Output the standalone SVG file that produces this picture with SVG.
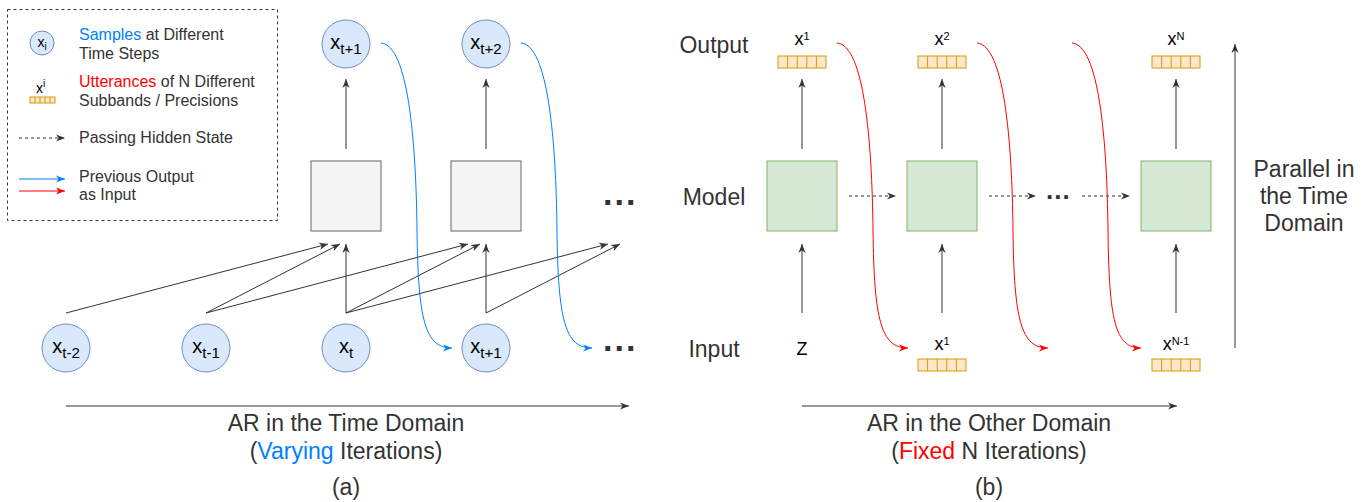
<svg xmlns="http://www.w3.org/2000/svg" width="1368" height="502" viewBox="0 0 1368 502">
  <style>
    text { font-family: "Liberation Sans", Arial, sans-serif; fill: #333333; }
    .lbl { font-size: 23px; }
    .leg { font-size: 16px; }
    .var { font-size: 20px; fill: #000000; }
    .sym { font-size: 18px; fill: #000000; }
    .dots { font-weight: bold; fill: #333333; }
    .sample { fill: #dae8fc; stroke: #6c8ebf; stroke-width: 1; }
    .gray { fill: #f5f5f5; stroke: #666666; stroke-width: 1; }
    .green { fill: #d5e8d4; stroke: #82b366; stroke-width: 1; }
    .bar { fill: #ffe6cc; stroke: #d79b00; stroke-width: 1; }
    .edge { fill: none; stroke: #333333; stroke-width: 1; marker-end: url(#ah); }
    .dash { fill: none; stroke: #333333; stroke-width: 1; stroke-dasharray: 3 3; marker-end: url(#ah); }
    .blue { fill: none; stroke: #007fff; stroke-width: 1; marker-end: url(#ahb); }
    .red { fill: none; stroke: #ff0000; stroke-width: 1; marker-end: url(#ahr); }
    .b { fill: #007fff; }
    .r { fill: #ff0000; }
  </style>
  <defs>
    <marker id="ah" viewBox="0 0 10 10" refX="10" refY="5" markerWidth="9" markerHeight="9" markerUnits="userSpaceOnUse" orient="auto">
      <path d="M0,1 L10,5 L0,9 L3,5 z" fill="#333333"/>
    </marker>
    <marker id="ahb" viewBox="0 0 10 10" refX="10" refY="5" markerWidth="9" markerHeight="9" markerUnits="userSpaceOnUse" orient="auto">
      <path d="M0,1 L10,5 L0,9 L3,5 z" fill="#007fff"/>
    </marker>
    <marker id="ahr" viewBox="0 0 10 10" refX="10" refY="5" markerWidth="9" markerHeight="9" markerUnits="userSpaceOnUse" orient="auto">
      <path d="M0,1 L10,5 L0,9 L3,5 z" fill="#ff0000"/>
    </marker>
    <!-- five-cell feature bar -->
    <g id="bar48">
      <rect class="bar" x="0" y="0" width="48" height="12"/>
      <path d="M9.6,0 V12 M19.2,0 V12 M28.8,0 V12 M38.4,0 V12" stroke="#d79b00" stroke-width="1" fill="none"/>
    </g>
  </defs>

  <rect width="1368" height="502" fill="#ffffff"/>

  <!-- legend -->
  <g id="legend">
    <rect x="7.5" y="9.5" width="270" height="211" fill="none" stroke="#333333" stroke-dasharray="3 3"/>
    <circle class="sample" cx="42" cy="43" r="12"/>
    <text x="42" y="47" text-anchor="middle" style="font-size:14px;fill:#000">x<tspan style="font-size:10px" dy="3">i</tspan></text>
    <text class="leg" x="79" y="40"><tspan class="b">Samples</tspan> at Different</text>
    <text class="leg" x="79" y="59">Time Steps</text>
    <text x="36" y="93" style="font-size:14px;fill:#000">x<tspan style="font-size:10px" dy="-6">i</tspan></text>
    <rect class="bar" x="30" y="97" width="25" height="6"/>
    <path d="M35,97 V103 M40,97 V103 M45,97 V103 M50,97 V103" stroke="#d79b00" fill="none"/>
    <text class="leg" x="79" y="87"><tspan class="r">Utterances</tspan> of N Different</text>
    <text class="leg" x="79" y="106">Subbands / Precisions</text>
    <path class="dash" d="M19,138 H65"/>
    <text class="leg" x="79" y="143">Passing Hidden State</text>
    <path class="blue" d="M19,179 H65"/>
    <path class="red" d="M19,191 H65"/>
    <text class="leg" x="79" y="182">Previous Output</text>
    <text class="leg" x="79" y="200">as Input</text>
  </g>

  <!-- (a) time-domain autoregression -->
  <g id="xt-2"><circle class="sample" cx="66" cy="348" r="24"/><text class="var" x="66" y="353" text-anchor="middle">x<tspan style="font-size:15px" dy="5">t-2</tspan></text></g>
  <g id="xt-1"><circle class="sample" cx="206" cy="348" r="24"/><text class="var" x="206" y="353" text-anchor="middle">x<tspan style="font-size:15px" dy="5">t-1</tspan></text></g>
  <g id="xt"><circle class="sample" cx="346" cy="348" r="24"/><text class="var" x="346" y="353" text-anchor="middle">x<tspan style="font-size:15px" dy="5">t</tspan></text></g>
  <g id="xt+1-in"><circle class="sample" cx="486" cy="348" r="24"/><text class="var" x="486" y="353" text-anchor="middle">x<tspan style="font-size:15px" dy="5">t+1</tspan></text></g>
  <g id="model-a1"><rect class="gray" x="311" y="161" width="70" height="70"/></g>
  <g id="model-a2"><rect class="gray" x="451" y="161" width="70" height="70"/></g>
  <g id="xt+1-out"><circle class="sample" cx="346" cy="44" r="24"/><text class="var" x="346" y="49" text-anchor="middle">x<tspan style="font-size:15px" dy="5">t+1</tspan></text></g>
  <g id="xt+2-out"><circle class="sample" cx="486" cy="44" r="24"/><text class="var" x="486" y="49" text-anchor="middle">x<tspan style="font-size:15px" dy="5">t+2</tspan></text></g>
  <g id="more-a">
    <text class="dots" x="603" y="205" style="font-size:34px;letter-spacing:2px">...</text>
    <text class="dots" x="603" y="351" style="font-size:34px;letter-spacing:2px">...</text>
  </g>
  <g id="caption-a">
    <text class="lbl" x="346" y="431" text-anchor="middle">AR in the Time Domain</text>
    <text class="lbl" x="346" y="459" text-anchor="middle">(<tspan class="b">Varying</tspan> Iterations)</text>
    <text class="lbl" x="346" y="495" text-anchor="middle">(a)</text>
  </g>

  <!-- (b) autoregression over the other domain -->
  <g id="row-labels">
    <text class="lbl" x="714" y="53" text-anchor="middle">Output</text>
    <text class="lbl" x="714" y="205" text-anchor="middle">Model</text>
    <text class="lbl" x="714" y="357" text-anchor="middle">Input</text>
  </g>
  <g id="z-in"><text class="sym" x="802" y="355" text-anchor="middle">Z</text></g>
  <g id="x1-in"><text class="sym" x="942" y="350" text-anchor="middle">x<tspan style="font-size:11px" dy="-5">1</tspan></text><use href="#bar48" x="918" y="359"/></g>
  <g id="xN-1-in"><text class="sym" x="1176" y="350" text-anchor="middle">x<tspan style="font-size:11px" dy="-5">N-1</tspan></text><use href="#bar48" x="1152" y="359"/></g>
  <g id="model-b1"><rect class="green" x="767" y="161" width="70" height="70"/></g>
  <g id="model-b2"><rect class="green" x="907" y="161" width="70" height="70"/></g>
  <g id="model-bN"><rect class="green" x="1141" y="161" width="70" height="70"/></g>
  <g id="x1-out"><text class="sym" x="802" y="45" text-anchor="middle">x<tspan style="font-size:11px" dy="-5">1</tspan></text><use href="#bar48" x="778" y="56"/></g>
  <g id="x2-out"><text class="sym" x="942" y="45" text-anchor="middle">x<tspan style="font-size:11px" dy="-5">2</tspan></text><use href="#bar48" x="918" y="56"/></g>
  <g id="xN-out"><text class="sym" x="1176" y="45" text-anchor="middle">x<tspan style="font-size:11px" dy="-5">N</tspan></text><use href="#bar48" x="1152" y="56"/></g>
  <g id="more-b"><text class="dots" x="1046" y="199" style="font-size:26px;letter-spacing:1px">...</text></g>
  <g id="parallel-label">
    <text class="lbl" x="1304" y="177" text-anchor="middle">Parallel in</text>
    <text class="lbl" x="1304" y="204" text-anchor="middle">the Time</text>
    <text class="lbl" x="1304" y="231" text-anchor="middle">Domain</text>
  </g>
  <g id="caption-b">
    <text class="lbl" x="989" y="431" text-anchor="middle">AR in the Other Domain</text>
    <text class="lbl" x="989" y="459" text-anchor="middle">(<tspan class="r">Fixed</tspan> N Iterations)</text>
    <text class="lbl" x="989" y="495" text-anchor="middle">(b)</text>
  </g>

  <g id="connectors">
    <!-- (a) inputs to models -->
    <path class="edge" d="M66,313 L328,244"/>
    <path class="edge" d="M206,313 L340,244"/>
    <path class="edge" d="M346,313 L346,244"/>
    <path class="edge" d="M206,313 L468,244"/>
    <path class="edge" d="M346,313 L480,244"/>
    <path class="edge" d="M486,313 L486,244"/>
    <path class="edge" d="M346,313 L608,244"/>
    <path class="edge" d="M486,313 L620,244"/>
    <!-- (a) models to outputs -->
    <path class="edge" d="M346,149 L346,79"/>
    <path class="edge" d="M486,149 L486,79"/>
    <!-- (a) output fed back as next input -->
    <path class="blue" d="M381,43 C408,45 416,140 417,230 C418,320 425,348 452,348"/>
    <path class="blue" d="M521,43 C548,45 556,140 557,230 C558,320 565,348 592,348"/>
    <!-- (b) inputs to models, models to outputs -->
    <path class="edge" d="M802,313 L802,244"/>
    <path class="edge" d="M942,313 L942,244"/>
    <path class="edge" d="M1176,313 L1176,244"/>
    <path class="edge" d="M802,149 L802,79"/>
    <path class="edge" d="M942,149 L942,79"/>
    <path class="edge" d="M1176,149 L1176,79"/>
    <!-- (b) hidden state -->
    <path class="dash" d="M849,196 H896"/>
    <path class="dash" d="M989,196 H1036"/>
    <path class="dash" d="M1082,196 H1130"/>
    <!-- (b) output fed back as next input -->
    <path class="red" d="M837,43 C864,45 872,140 873,230 C874,320 881,348 908,348"/>
    <path class="red" d="M977,43 C1004,45 1012,140 1013,230 C1014,320 1021,348 1048,348"/>
    <path class="red" d="M1072,43 C1099,45 1107,140 1108,230 C1109,320 1115,348 1141,348"/>
    <!-- axes -->
    <path class="edge" d="M1235,348 L1235,44"/>
    <path class="edge" d="M66,406 L629,406"/>
    <path class="edge" d="M802,406 L1177,406"/>
  </g>
</svg>
